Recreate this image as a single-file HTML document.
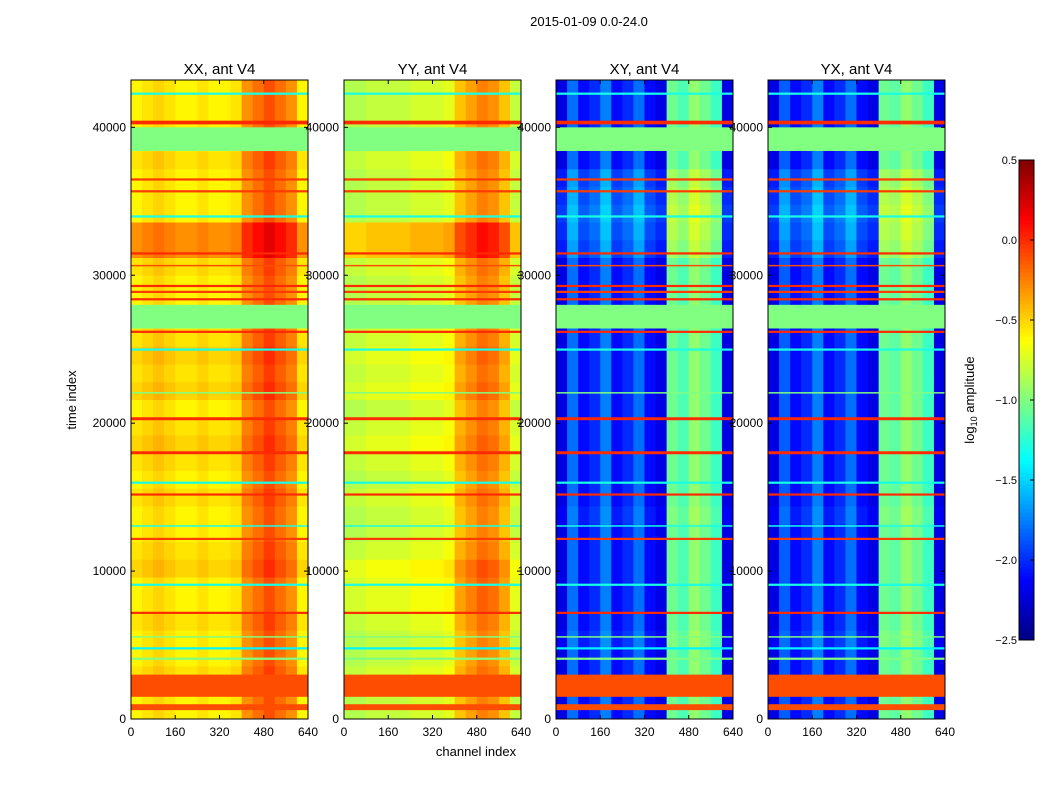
<!DOCTYPE html>
<html><head><meta charset="utf-8"><style>
body{margin:0;background:#fff;font-family:"Liberation Sans",sans-serif;}
svg text{font-family:"Liberation Sans",sans-serif;fill:#000;}
</style></head><body>
<svg id="fig" width="1050" height="800" xmlns="http://www.w3.org/2000/svg">
<text x="589" y="26" font-size="13" text-anchor="middle">2015-01-09 0.0-24.0</text>
<text x="476" y="756" font-size="13" text-anchor="middle">channel index</text>
<text x="76" y="400" font-size="13" text-anchor="middle" transform="rotate(-90 76 400)">time index</text>
<text x="974" y="400" font-size="13" text-anchor="middle" transform="rotate(-90 974 400)">log<tspan font-size="9" dy="3">10</tspan><tspan dy="-3"> amplitude</tspan></text>
<g id="panels"></g>
<g id="cbar"></g>
</svg>
<script>
const panelNames=["XX, ant V4","YY, ant V4","XY, ant V4","YX, ant V4"];
const panelLeft=[131,344,556,768];
const xTicks=[0,160,320,480,640];
const yTicks=[0,10000,20000,30000,40000];
const cbTicks=[-2.5,-2.0,-1.5,-1.0,-0.5,0.0,0.5];
const chanXX=[-0.6,-0.55,-0.5,-0.55,-0.6,-0.6,-0.55,-0.6,-0.6,-0.55,-0.3,-0.2,-0.1,-0.2,-0.3,-0.6];
const chanYY=[-0.85,-0.85,-0.8,-0.8,-0.8,-0.8,-0.75,-0.75,-0.75,-0.7,-0.45,-0.35,-0.25,-0.3,-0.45,-0.8];
const chanXY=[-2.2,-1.8,-2.1,-2.0,-1.75,-2.1,-2.0,-1.8,-2.1,-2.2,-1.05,-1.15,-0.95,-1.05,-1.2,-2.2];
const chanYX=[-2.2,-1.85,-2.1,-2.0,-1.75,-2.1,-2.0,-1.8,-2.1,-2.2,-1.05,-1.1,-0.95,-1.05,-1.2,-2.2];
const timeOffXX=[0,0,0.05,0,0,0.05,0,0,0.1,0.05,0,0,0.05,0,0.05,0.1,0.05,0,0.1,0.05,0.1,0.05,0,0,0,0.05,0.3,0.3,0,0,0,0.05,0,0,0,0];
const timeOffYY=[0,0,0.05,0,0,0.05,0.1,0.1,0.15,0.05,0,0,0.05,0,0.05,0.1,0.05,0,0.1,0.05,0.1,0.05,0,0,0,0.05,0.35,0.35,0,0,0,0.05,0,0,0,0];
const timeOffXY=[0,0,0,0,0.05,0,0,0,0,0,0,0.05,0,0,0,0,0,0,0,0,0,0,0,0,0,0,0.15,0.2,0.25,0.2,0.15,0,0,0,0,0];
const flagStart=[38400,26400,1500,40200,36400,35600,31400,29200,28800,28300,26100,20200,17900,15100,12100,7100,4700,600,33900,24900,15900,9000,4000,42200,30600,22000,13000,5500];
const flagEnd=[40000,28000,3000,40450,36550,35750,31550,29350,28950,28450,26250,20400,18100,15250,12250,7250,4850,1000,34050,25050,16050,9150,4150,42350,30700,22100,13100,5600];
const flagVal=[-1.0,-1.0,-0.1,0.0,-0.05,-0.05,0.0,0.0,-0.05,0.0,0.0,0.0,0.0,0.0,-0.05,0.0,-1.4,-0.1,-1.3,-1.3,-1.3,-1.3,-1.0,-1.3,-0.1,-1.0,-1.3,-1.0];
const chans=[chanXX,chanYY,chanXY,chanYX];
const toffs=[timeOffXX,timeOffYY,timeOffXY,timeOffXY];
const TOP=80,BOT=719,W=177,YMAX=43200,XMAX=640,VMIN=-2.5,VMAX=0.5;
const NS="http://www.w3.org/2000/svg";
function yS(t){return BOT-(t/YMAX)*(BOT-TOP);}
function xS(c,l){return l+(c/XMAX)*W;}
function jet(v){let t=(v-VMIN)/(VMAX-VMIN);t=Math.max(0,Math.min(1,t));
 const f=x=>Math.round(255*Math.max(0,Math.min(1,x)));
 const r=f(Math.min(4*t-1.5,-4*t+4.5)),g=f(Math.min(4*t-0.5,-4*t+3.5)),b=f(Math.min(4*t+0.5,-4*t+2.5));
 return `rgb(${r},${g},${b})`;}
function mk(tag,attrs,parent){const e=document.createElementNS(NS,tag);for(const k in attrs)e.setAttribute(k,attrs[k]);parent.appendChild(e);return e;}
const P=document.getElementById("panels");
for(let p=0;p<4;p++){
 const g=mk("g",{},P);
 
 
 const L=panelLeft[p],ch=chans[p],to=toffs[p];
 const cw=XMAX/ch.length,tb=YMAX/to.length;
 for(let r=0;r<to.length;r++)for(let c=0;c<ch.length;c++){
  const x0=xS(c*cw,L),x1=xS((c+1)*cw,L),y0=yS((r+1)*tb),y1=yS(r*tb);
  const e=mk("rect",{x:x0,y:y0,width:x1-x0+0.5,height:y1-y0+0.5,fill:jet(ch[c]+to[r])},g);
  
  
 }
 for(let i=0;i<flagStart.length;i++){
  const y0=yS(flagEnd[i]),y1=yS(flagStart[i]);
  const e=mk("rect",{x:L,y:y0,width:W,height:Math.max(1,y1-y0),fill:jet(flagVal[i])},g);
  
  
 }
 mk("rect",{x:L,y:TOP,width:W,height:BOT-TOP,fill:"none",stroke:"#000","stroke-width":1},g);
 const tt=mk("text",{x:L+W/2,y:74,"font-size":15,"text-anchor":"middle"},g);tt.textContent=panelNames[p];
 
 
 for(const v of xTicks){const x=xS(v,L);mk("line",{x1:x,x2:x,y1:BOT,y2:BOT-4,stroke:"#000"},g);mk("line",{x1:x,x2:x,y1:TOP,y2:TOP+4,stroke:"#000"},g);
  const t=mk("text",{x:x,y:736,"font-size":12,"text-anchor":"middle"},g);t.textContent=v;
  
  }
 for(const v of yTicks){const y=yS(v);mk("line",{x1:L,x2:L+4,y1:y,y2:y,stroke:"#000"},g);mk("line",{x1:L+W,x2:L+W-4,y1:y,y2:y,stroke:"#000"},g);
  const t=mk("text",{x:L-5,y:y+4,"font-size":12,"text-anchor":"end"},g);t.textContent=v;
  
  }
}
const C=document.getElementById("cbar");


const CB={x:1019,w:15,top:160,bot:640};
const cv=v=>CB.bot-(v-VMIN)/(VMAX-VMIN)*(CB.bot-CB.top);
for(let i=0;i<120;i++){const v0=VMIN+i*(VMAX-VMIN)/120,v1=v0+(VMAX-VMIN)/120;
 mk("rect",{x:CB.x,y:cv(v1),width:CB.w,height:cv(v0)-cv(v1)+0.5,fill:jet((v0+v1)/2)},C);}
mk("rect",{x:CB.x,y:CB.top,width:CB.w,height:CB.bot-CB.top,fill:"none",stroke:"#000"},C);
for(const v of cbTicks){const y=cv(v);mk("line",{x1:CB.x+CB.w-4,x2:CB.x+CB.w,y1:y,y2:y,stroke:"#000"},C);
 const t=mk("text",{x:CB.x-2,y:y+4,"font-size":11,"text-anchor":"end"},C);t.textContent=v.toFixed(1).replace("-","−");
 
 }
</script>
</body></html>
